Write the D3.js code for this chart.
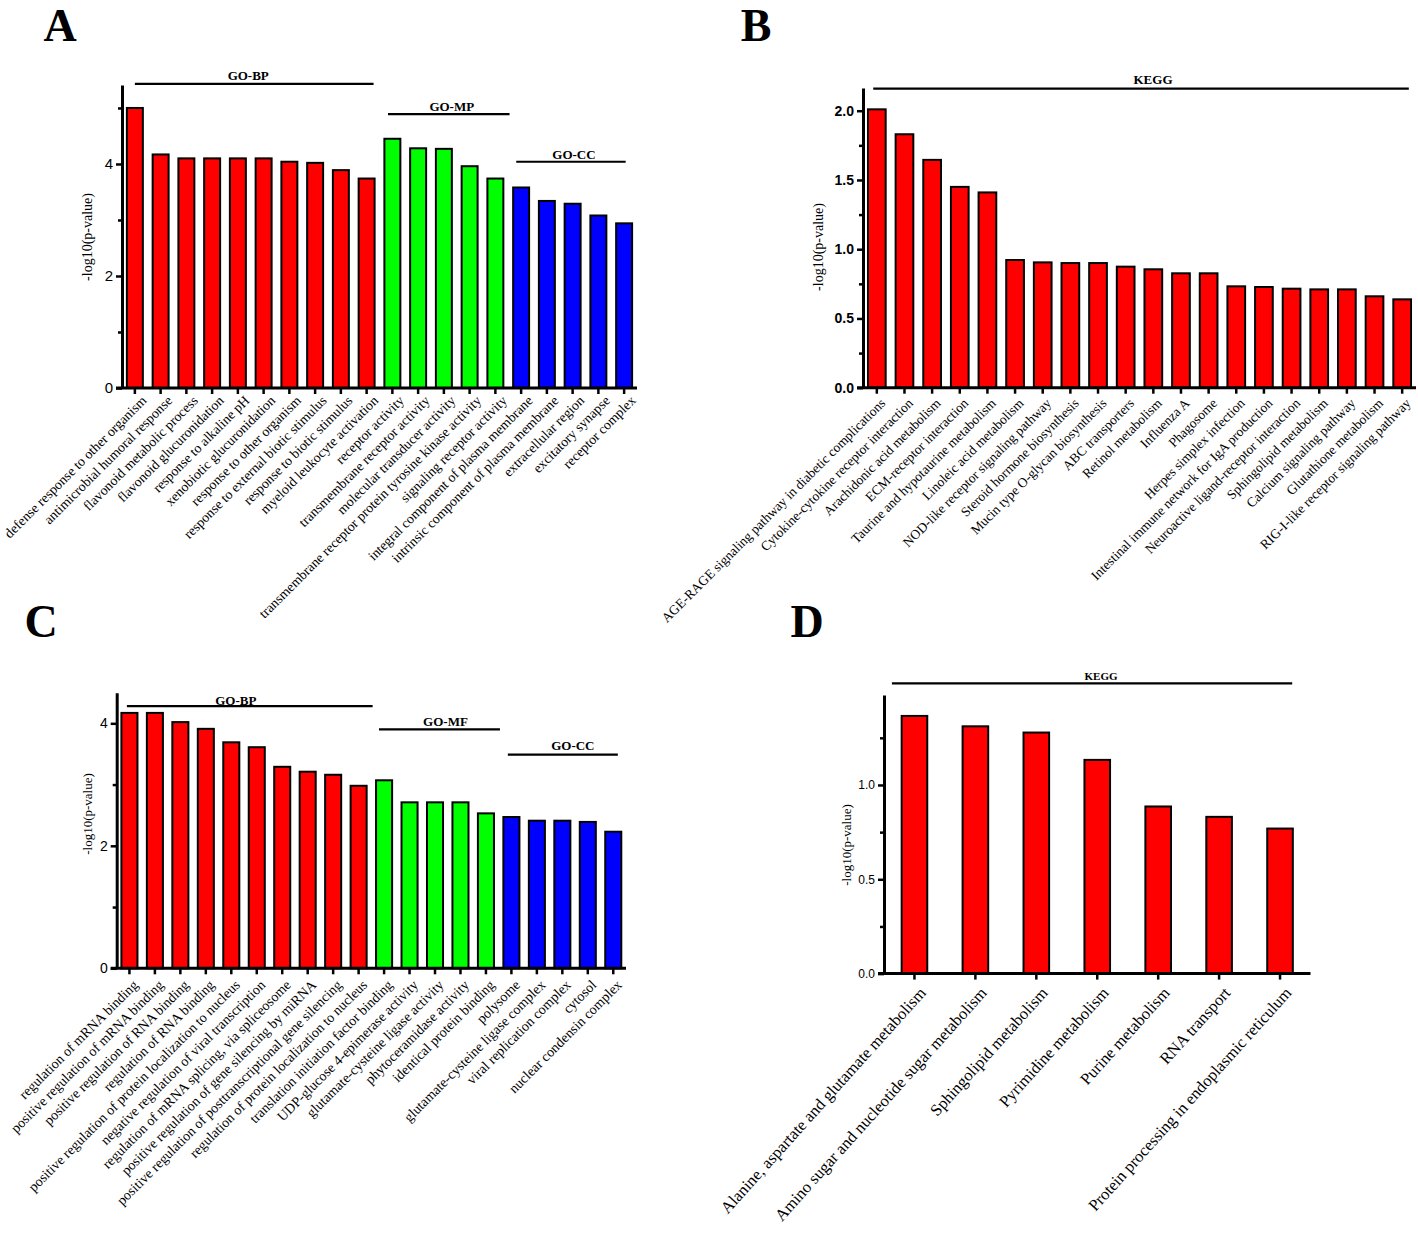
<!DOCTYPE html>
<html><head><meta charset="utf-8">
<script src="https://cdn.jsdelivr.net/npm/d3@7"></script>
<style>body{margin:0;background:#fff}</style>
</head><body>
<svg id="c" width="1418" height="1233"></svg>
<script>
// ---------- DATA ----------
const aTerms = ["defense response to other organism","antimicrobial humoral response","flavonoid metabolic process","flavonoid glucuronidation","response to alkaline pH","xenobiotic glucuronidation","response to other organism","response to external biotic stimulus","response to biotic stimulus","myeloid leukocyte activation","receptor activity","transmembrane receptor activity","molecular transducer activity","transmembrane receptor protein tyrosine kinase activity","signaling receptor activity","integral component of plasma membrane","intrinsic component of plasma membrane","extracellular region","excitatory synapse","receptor complex"];
const aValues = [5.0,4.17,4.10,4.10,4.10,4.10,4.04,4.02,3.89,3.74,4.45,4.28,4.27,3.96,3.74,3.58,3.34,3.29,3.08,2.94];
const aCats = ["BP","BP","BP","BP","BP","BP","BP","BP","BP","BP","MF","MF","MF","MF","MF","CC","CC","CC","CC","CC"];
const aGroups = ["GO-BP","GO-MP","GO-CC"];
const aYTicks = [0,2,4];
const aYMinor = [1,3,5];

const bTerms = ["AGE-RAGE signaling pathway in diabetic complications","Cytokine-cytokine receptor interaction","Arachidonic acid metabolism","ECM-receptor interaction","Taurine and hypotaurine metabolism","Linoleic acid metabolism","NOD-like receptor signaling pathway","Steroid hormone biosynthesis","Mucin type O-glycan biosynthesis","ABC transporters","Retinol metabolism","Influenza A","Phagosome","Herpes simplex infection","Intestinal immune network for IgA production","Neuroactive ligand-receptor interaction","Sphingolipid metabolism","Calcium signaling pathway","Glutathione metabolism","RIG-I-like receptor signaling pathway"];
const bValues = [2.01,1.83,1.645,1.45,1.41,0.922,0.905,0.90,0.90,0.874,0.855,0.826,0.826,0.732,0.727,0.715,0.71,0.71,0.66,0.638];
const bCats = bTerms.map(() => "BP");
const bGroups = ["KEGG"];
const bYTicks = [0,0.5,1.0,1.5,2.0];
const bYMinor = [0.25,0.75,1.25,1.75];

const cTerms = ["regulation of mRNA binding","positive regulation of mRNA binding","positive regulation of RNA binding","regulation of RNA binding","positive regulation of protein localization to nucleus","negative regulation of viral transcription","regulation of mRNA splicing, via spliceosome","positive regulation of gene silencing by miRNA","positive regulation of posttranscriptional gene silencing","regulation of protein localization to nucleus","translation initiation factor binding","UDP-glucose 4-epimerase activity","glutamate-cysteine ligase activity","phytoceramidase activity","identical protein binding","polysome","glutamate-cysteine ligase complex","viral replication complex","cytosol","nuclear condensin complex"];
const cValues = [4.17,4.17,4.02,3.91,3.69,3.61,3.29,3.21,3.16,2.98,3.07,2.71,2.71,2.71,2.53,2.47,2.41,2.41,2.39,2.23];
const cCats = aCats.slice();
const cGroups = ["GO-BP","GO-MF","GO-CC"];
const cYTicks = [0,2,4];
const cYMinor = [1,3];

const dTerms = ["Alanine, aspartate and glutamate metabolism","Amino sugar and nucleotide sugar metabolism","Sphingolipid metabolism","Pyrimidine metabolism","Purine metabolism","RNA transport","Protein processing in endoplasmic reticulum"];
const dValues = [1.366,1.311,1.278,1.133,0.886,0.831,0.769];
const dCats = dTerms.map(() => "BP");
const dGroups = ["KEGG"];
const dYTicks = [0,0.5,1.0];
const dYMinor = [0.25,0.75,1.25];

const catColor = {BP:"#ff0000", MF:"#00ff00", CC:"#0000ff"};
const SERIF = "'Liberation Serif','Times New Roman',serif";
const SANS = "'Liberation Sans',Arial,sans-serif";

const svg = d3.select("#c");

function drawPanel(p) {
  const g = svg.append("g");
  const x = d3.scaleBand().domain(p.terms).range([p.x0, p.x1])
    .paddingInner(p.pad).paddingOuter(p.pad / 2);
  const y = d3.scaleLinear().domain([0, p.ymax]).range([p.yBase, p.yTop]);
  const step = x.step();
  const cx = t => x(t) + x.bandwidth() / 2;

  // bars
  g.selectAll("rect.bar").data(p.terms).join("rect")
    .attr("x", t => x(t))
    .attr("y", (t, i) => y(p.values[i]))
    .attr("width", x.bandwidth())
    .attr("height", (t, i) => p.yBase - y(p.values[i]))
    .attr("fill", (t, i) => catColor[p.cats[i]])
    .attr("stroke", "#000").attr("stroke-width", 2);

  // y axis
  const ya = g.append("g").attr("transform", `translate(${p.x0},0)`)
    .call(d3.axisLeft(y).tickValues(p.yTicks).tickFormat(p.fmt).tickSize(6).tickSizeOuter(0));
  ya.select(".domain").attr("stroke-width", 3);
  ya.selectAll(".tick line").attr("stroke-width", 2.5);
  ya.selectAll(".tick text").attr("font-family", SANS).attr("font-size", p.tickFont)
    .attr("font-weight", p.tickWeight).attr("fill", "#000").attr("x", -9);
  const ym = g.append("g").attr("transform", `translate(${p.x0},0)`)
    .call(d3.axisLeft(y).tickValues(p.yMinor).tickFormat("").tickSize(4).tickSizeOuter(0));
  ym.select(".domain").remove();
  ym.selectAll(".tick line").attr("stroke-width", 2.5);

  // x axis
  const xa = g.append("g").attr("transform", `translate(0,${p.yBase})`)
    .call(d3.axisBottom(x).tickSize(6).tickSizeOuter(0));
  xa.select(".domain").attr("d", `M${p.x0 - 6},0H${p.x1}`).attr("stroke-width", 3);
  xa.selectAll(".tick line").attr("stroke-width", 2.5);
  xa.selectAll(".tick text")
    .attr("x", 0).attr("y", 0).attr("dy", "0.35em")
    .attr("transform", `translate(${p.lab[0]},${p.lab[1]}) rotate(${-p.angle})`)
    .style("text-anchor", "end")
    .attr("font-family", SERIF).attr("font-size", p.labFont).attr("fill", "#000");

  // y label
  g.append("text")
    .attr("transform", `translate(${p.ylab[0]},${p.ylab[1]}) rotate(-90)`)
    .attr("text-anchor", "middle").attr("font-family", SERIF)
    .attr("font-size", p.ylabFont).text("-log10(p-value)");

  // group lines
  p.groupSpans.forEach((s, k) => {
    const x1 = cx(p.terms[s.from]) + s.o0 * step;
    const x2 = cx(p.terms[s.to]) + s.o1 * step;
    const yy = y(s.v);
    g.append("line").attr("x1", x1).attr("x2", x2).attr("y1", yy).attr("y2", yy)
      .attr("stroke", "#000").attr("stroke-width", 2.2);
    g.append("text").attr("x", (x1 + x2) / 2 + (s.dx || 0)).attr("y", yy - s.gap)
      .attr("text-anchor", "middle").attr("font-family", SERIF).attr("font-weight", "bold")
      .attr("font-size", p.groupFont).text(p.groups[k]);
  });

  // panel letter
  g.append("text").attr("x", p.letterPos[0]).attr("y", p.letterPos[1])
    .attr("text-anchor", "middle").attr("font-family", SERIF).attr("font-weight", "bold")
    .attr("font-size", 46).text(p.letter);
}

const f0 = d3.format("d"), f1 = d3.format(".1f");

drawPanel({terms:aTerms, values:aValues, cats:aCats, groups:aGroups, yTicks:aYTicks, yMinor:aYMinor,
  x0:122, x1:637, yBase:388, yTop:85, ymax:5.41, pad:0.38, fmt:f0, tickFont:15, tickWeight:"normal",
  lab:[9,10], angle:45, labFont:13.8, ylab:[92,237], ylabFont:14, groupFont:13,
  groupSpans:[{from:0,to:9,o0:0,o1:0.27,v:5.43,gap:4,dx:-6},{from:10,to:14,o0:-0.17,o1:0.55,v:4.89,gap:3,dx:3},{from:15,to:19,o0:-0.19,o1:0.06,v:4.04,gap:3,dx:3}],
  letter:"A", letterPos:[60,41]});

drawPanel({terms:bTerms, values:bValues, cats:bCats, groups:bGroups, yTicks:bYTicks, yMinor:bYMinor,
  x0:863, x1:1416, yBase:387.7, yTop:88, ymax:2.164, pad:0.36, fmt:f1, tickFont:14, tickWeight:"bold",
  lab:[6,13], angle:45, labFont:13.5, ylab:[823,247], ylabFont:14, groupFont:13,
  groupSpans:[{from:0,to:19,o0:-0.13,o1:0.24,v:2.159,gap:5,dx:12}],
  letter:"B", letterPos:[756,41]});

drawPanel({terms:cTerms, values:cValues, cats:cCats, groups:cGroups, yTicks:cYTicks, yMinor:cYMinor,
  x0:116.7, x1:626, yBase:968.3, yTop:692.7, ymax:4.5, pad:0.37, fmt:f0, tickFont:14, tickWeight:"normal",
  lab:[6,14], angle:45, labFont:14, ylab:[92,814], ylabFont:13, groupFont:13,
  groupSpans:[{from:0,to:9,o0:-0.1,o1:0.55,v:4.28,gap:1,dx:-14},{from:10,to:14,o0:-0.2,o1:0.55,v:3.90,gap:3,dx:6},{from:15,to:19,o0:-0.14,o1:0.18,v:3.49,gap:5,dx:10}],
  letter:"C", letterPos:[41,637]});

drawPanel({terms:dTerms, values:dValues, cats:dCats, groups:dGroups, yTicks:dYTicks, yMinor:dYMinor,
  x0:884, x1:1310.5, yBase:973.6, yTop:695, ymax:1.477, pad:0.58, fmt:f1, tickFont:12, tickWeight:"normal",
  lab:[8,16], angle:48, labFont:16.5, ylab:[851,845], ylabFont:13, groupFont:11,
  groupSpans:[{from:0,to:6,o0:-0.37,o1:0.2,v:1.539,gap:3,dx:9}],
  letter:"D", letterPos:[807,637]});
</script>
</body></html>
